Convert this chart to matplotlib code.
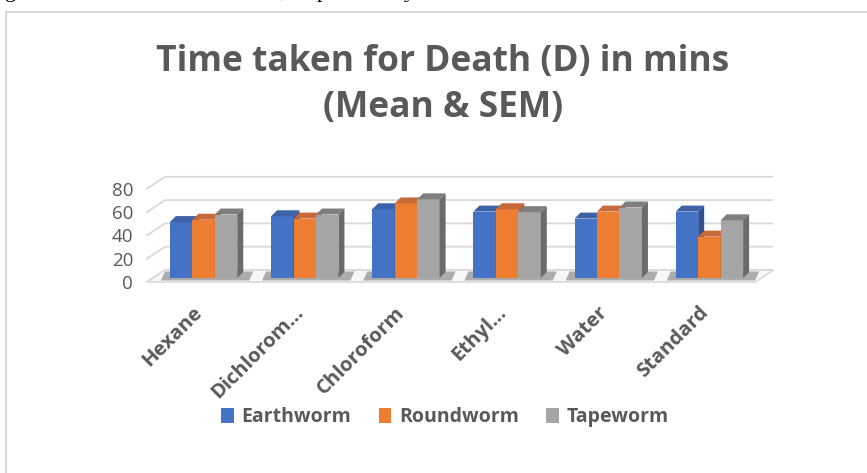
import matplotlib.pyplot as plt
import matplotlib.transforms as mtransforms
from matplotlib.patches import Polygon, Rectangle
from matplotlib.lines import Line2D
import numpy as np

plt.rcParams["font.family"] = ["Open Sans", "DejaVu Sans"]

categories = ["Hexane", "Dichlorom...", "Chloroform", "Ethyl...", "Water", "Standard"]
series = ["Earthworm", "Roundworm", "Tapeworm"]
earthworm = [48, 53, 59, 57, 51, 57]
roundworm = [50, 51, 64, 59, 57, 35.5]
tapeworm = [54.5, 54.5, 67.5, 56.5, 60.5, 49.5]
yticks = [0, 20, 40, 60, 80]

# front / top / side colours of each series
front_cols = ["#4472C4", "#ED7D31", "#A5A5A5"]
top_cols = ["#3d62a8", "#c9693a", "#7f7f7f"]
side_cols = ["#2f5092", "#b35a2a", "#6b6b6b"]
grey_txt = "#595959"

W, H = 867, 473
fig = plt.figure(figsize=(W / 100, H / 100), dpi=100)
ax = fig.add_axes([147 / W, (H - 282) / H, (754 - 147) / W, 93.2 / H])
ax.set_xlim(-0.5, 5.5)
ax.set_ylim(0, 80)

# pixel -> data helpers for the fake 3d depth
px_x = 6 / (754 - 147)
px_y = 80 / 93.2


def off(dx, dy):
    return np.array([dx * px_x, dy * px_y])


wall = off(18, 12)      # back wall offset
plane = off(6, 4)       # front plane of the bars
depth = off(6, 6)       # depth of one bar

# back wall gridlines
x0, x1 = ax.get_xlim()
for v in yticks:
    ax.add_line(Line2D([x0, x0 + wall[0], x1 + wall[0]],
                       [v, v + wall[1], v + wall[1]],
                       color="#d9d9d9", lw=1.3, clip_on=False, zorder=1))

# floor
floor = np.array([[x0, 0], [x1 + 0.015, 0], [x1 + 0.015 + wall[0], wall[1]], [x0 + wall[0], wall[1]]])
ax.add_patch(Polygon(floor, closed=True, fc="#f7f7f7", ec="#d9d9d9", lw=1.2,
                     clip_on=False, zorder=1))

values = [earthworm, roundworm, tapeworm]
bw = 0.222
for i in range(len(categories)):
    # soft shadow under each group
    gl = i - 1.5 * bw + plane[0] - 9 * px_x
    gr = i + 1.5 * bw + plane[0] + depth[0] + 6 * px_x
    sh = np.array([[gl, 1.5 * px_y], [gr, 1.5 * px_y],
                   [gr + 4 * px_x, wall[1] - 1.5 * px_y], [gl + 4 * px_x, wall[1] - 1.5 * px_y]])
    ax.add_patch(Polygon(sh, closed=True, fc="#7a7a7a", ec="none", alpha=0.6,
                         clip_on=False, zorder=2))
    for k in range(3):
        v = values[k][i]
        left = i + (k - 1.5) * bw + plane[0]
        right = left + bw
        b = plane[1]
        t = b + v
        ax.add_patch(Rectangle((left, b), bw, v, fc=front_cols[k], ec="none",
                               clip_on=False, zorder=3))
        top = np.array([[left, t], [right, t], [right + depth[0], t + depth[1]],
                        [left + depth[0], t + depth[1]]])
        ax.add_patch(Polygon(top, closed=True, fc=top_cols[k], ec="none",
                             clip_on=False, zorder=3))
        side = np.array([[right, b], [right, t], [right + depth[0], t + depth[1]],
                         [right + depth[0], b + depth[1]]])
        ax.add_patch(Polygon(side, closed=True, fc=side_cols[k], ec="none",
                             clip_on=False, zorder=3))

for s in ax.spines.values():
    s.set_visible(False)
ax.set_facecolor("none")
ax.set_yticks(yticks)
ax.set_yticklabels([str(v) for v in yticks])
ax.tick_params(axis="y", length=0, pad=10, labelsize=13.5, labelcolor=grey_txt)
ax.set_xticks(range(len(categories)))
ax.set_xticklabels(categories, rotation=45, ha="right", rotation_mode="anchor",
                   fontsize=14.5, fontweight="bold", color=grey_txt)
ax.tick_params(axis="x", length=0, pad=15)
shift = mtransforms.ScaledTranslation(-0.05, 0, fig.dpi_scale_trans)
for lab in ax.get_xticklabels():
    lab.set_transform(lab.get_transform() + shift)

# title
fig.text(443 / W, 1 - 62 / H, "Time taken for Death (D) in mins", ha="center", va="center",
         fontsize=25.5, fontweight="bold", color=grey_txt)
fig.text(443 / W, 1 - 108 / H, "(Mean & SEM)", ha="center", va="center",
         fontsize=25.5, fontweight="bold", color=grey_txt)

# legend
handles = [Rectangle((0, 0), 1, 1, fc=c, ec="none") for c in front_cols]
leg = fig.legend(handles, series, loc="center", bbox_to_anchor=(445 / W, 1 - 417 / H),
                 ncol=3, frameon=False, handlelength=0.65, handleheight=0.85,
                 handletextpad=0.4, columnspacing=1.4,
                 prop={"size": 14, "weight": "bold"})
for txt in leg.get_texts():
    txt.set_color(grey_txt)

# chart frame and the clipped line of document text above it
fig.add_artist(Line2D([6 / W, 6 / W, 1], [0, 1 - 12 / H, 1 - 12 / H],
                      transform=fig.transFigure, color="#d9d9d9", lw=1.5))
for ch, xp in [("g", 5), (",", 279), ("p", 317), ("y", 404)]:
    fig.text(xp / W, 1 + 3 / H, ch, ha="left", va="baseline", fontsize=16,
             family=["Liberation Serif"], color="black")

fig.savefig("out.png", dpi=100)
